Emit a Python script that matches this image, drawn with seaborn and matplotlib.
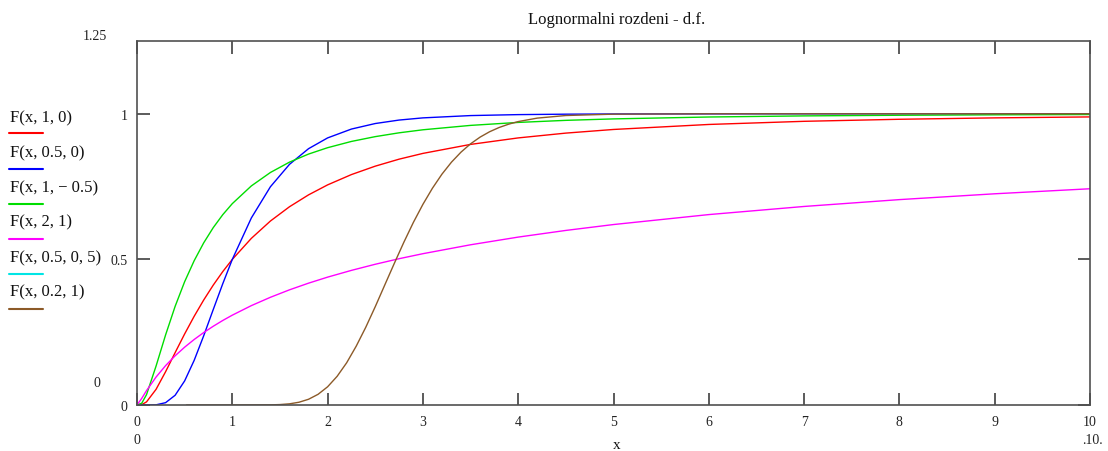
import matplotlib
matplotlib.use("Agg")
import matplotlib.pyplot as plt
from matplotlib.lines import Line2D
import seaborn as sns
import pandas as pd

# ---- data ----
x_common = [0, 0.05, 0.1, 0.2, 0.3, 0.4, 0.5, 0.6, 0.7, 0.8, 0.9, 1.0, 1.2, 1.4, 1.6,
            1.8, 2.0, 2.25, 2.5, 2.75, 3.0, 3.5, 4.0, 4.5, 5, 6, 7, 8, 9, 10]
red_y = [0, 0.0014, 0.0107, 0.0538, 0.1143, 0.1798, 0.2441, 0.3047, 0.3606, 0.4117,
         0.4581, 0.5, 0.5723, 0.6318, 0.6808, 0.7216, 0.7559, 0.7913, 0.8202, 0.8442,
         0.8640, 0.8949, 0.9172, 0.9337, 0.9462, 0.9634, 0.9742, 0.9812, 0.9860, 0.9893]
blue_y = [0, 0, 0, 0.0006, 0.0080, 0.0334, 0.0828, 0.1534, 0.2379, 0.3278, 0.4165, 0.5,
          0.6424, 0.7495, 0.8264, 0.8802, 0.9172, 0.9476, 0.9666, 0.9785, 0.9860, 0.9939,
          0.9972, 0.9987, 0.9994, 0.9998, 1.0, 1.0, 1.0, 1.0]
green_y = [0, 0.0063, 0.0357, 0.1337, 0.2407, 0.3387, 0.4235, 0.4956, 0.5569, 0.6091,
           0.6536, 0.6915, 0.7524, 0.7985, 0.8340, 0.8617, 0.8836, 0.9051, 0.9216, 0.9347,
           0.9451, 0.9602, 0.9704, 0.9775, 0.9825, 0.9890, 0.9928, 0.9950, 0.9965, 0.9975]
magenta_y = [0, 0.0229, 0.0494, 0.0960, 0.1352, 0.1690, 0.1986, 0.2250, 0.2488, 0.2704,
             0.2903, 0.3085, 0.3413, 0.3699, 0.3955, 0.4184, 0.4391, 0.4623, 0.4833, 0.5024,
             0.5196, 0.5502, 0.5766, 0.5995, 0.6197, 0.6539, 0.6818, 0.7053, 0.7253, 0.7426]
brown_x = [0.52, 1.0, 1.4, 1.5, 1.6, 1.7, 1.8, 1.9, 2.0, 2.1, 2.2, 2.3, 2.4, 2.5, 2.6, 2.7,
           2.8, 2.9, 3.0, 3.1, 3.2, 3.3, 3.4, 3.5, 3.6, 3.7, 3.8, 3.9, 4.0, 4.2, 4.5, 5.0,
           6.0, 10.0]
brown_y = [0, 0, 0.0005, 0.0015, 0.0040, 0.0095, 0.0197, 0.0367, 0.0625, 0.0985, 0.1450,
           0.2019, 0.2666, 0.3376, 0.4122, 0.4864, 0.5588, 0.6270, 0.6890, 0.7444, 0.7928,
           0.8340, 0.8684, 0.8969, 0.9199, 0.9384, 0.9530, 0.9644, 0.9733, 0.9852, 0.9941,
           0.9988, 1.0, 1.0]

legend_labels = ["F(x, 1, 0)", "F(x, 0.5, 0)", "F(x, 1, \u2212 0.5)",
                 "F(x, 2, 1)", "F(x, 0.5, 0, 5)", "F(x, 0.2, 1)"]
legend_colors = ["#ff0000", "#0000ff", "#00dd00", "#ff00ff", "#00e5e5", "#8c5a28"]
x_ticks = [0, 1, 2, 3, 4, 5, 6, 7, 8, 9, 10]
y_ticks = [0, 0.5, 1]
y_tick_labels = ["0", "0.5", "1"]
title = "Lognormalni rozdeni - d.f."

# ---- build long-form table ----
frames = []
for lab, xs, ys in [(legend_labels[0], x_common, red_y),
                    (legend_labels[1], x_common, blue_y),
                    (legend_labels[2], x_common, green_y),
                    (legend_labels[3], x_common, magenta_y),
                    (legend_labels[5], brown_x, brown_y)]:
    frames.append(pd.DataFrame({"x": xs, "F": ys, "series": lab}))
df = pd.concat(frames, ignore_index=True)

sns.set_theme(style="white")
plt.rcParams["font.family"] = ["Liberation Serif", "DejaVu Serif"]

W, H = 1108, 452
fig = plt.figure(figsize=(W / 100, H / 100), dpi=100)
ax = fig.add_axes([137 / W, 1 - 406 / H, (1090 - 137) / W, (406 - 42) / H])

order = [legend_labels[i] for i in (0, 1, 2, 3, 5)]
pal = {legend_labels[i]: legend_colors[i] for i in range(6)}
sns.lineplot(data=df, x="x", y="F", hue="series", hue_order=order, palette=pal,
             estimator=None, sort=False, linewidth=1.0, legend=False, ax=ax)

ax.set_xlim(0, 10)
ax.set_ylim(0, 1.25)
ax.set_xticks(x_ticks)
ax.set_xticklabels([str(t) for t in x_ticks], fontsize=10)
ax.set_yticks(y_ticks)
ax.set_yticklabels(y_tick_labels, fontsize=10)
ax.set_xlabel("")
ax.set_ylabel("")
for s in ax.spines.values():
    s.set_visible(True)
    s.set_color("#505050")
    s.set_linewidth(1.2)
ax.tick_params(direction="in", length=9, width=1.2, color="#404040",
               top=True, right=True, bottom=True, left=True, pad=7, labelcolor="#222222")

def ftext(px, py, s, **kw):
    fig.text(px / W, 1 - py / H, s, **kw)

ftext(617, 20, title, fontsize=12, ha="center", va="center", color="#111111")
ftext(95, 37, "1.25", fontsize=10, ha="center", va="center", color="#222222")
ftext(97, 384, "0", fontsize=10, ha="center", va="center", color="#222222")
ftext(137, 441, "0", fontsize=10, ha="center", va="center", color="#222222")
ftext(1092, 441, ".10.", fontsize=10, ha="center", va="center", color="#222222")
ftext(617, 446, "x", fontsize=11, ha="center", va="center", color="#111111")

# custom legend: label above colored line
text_y = [118, 153, 188, 222, 258, 292]
line_y = [134, 170, 205, 240, 275, 310]
for lab, col, ty, ly in zip(legend_labels, legend_colors, text_y, line_y):
    ftext(10, ty, lab, fontsize=12, ha="left", va="center", color="#111111")
    fig.add_artist(Line2D([9 / W, 43 / W], [1 - ly / H, 1 - ly / H],
                          color=col, linewidth=1.5, transform=fig.transFigure))

fig.savefig("out.png", dpi=100)
